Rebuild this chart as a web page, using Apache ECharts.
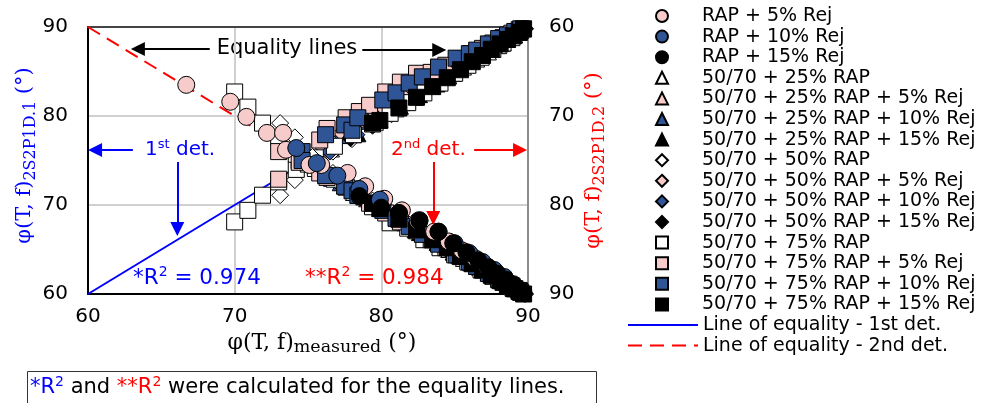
<!DOCTYPE html>
<html><head><meta charset="utf-8">
<script src="https://cdn.jsdelivr.net/npm/echarts@6/dist/echarts.min.js"></script>
<style>html,body{margin:0;padding:0;background:#fff}#c{width:985px;height:403px}</style>
</head><body><div id="c"></div>
<script>
// ---------- DATA ----------
const xTicks = [60, 70, 80, 90];
const eqX = [60, 90];
const eqY = [60, 90];

// RAP + x% Rej (2nd determination only)
const rap5_x  = [66.7, 69.7, 70.8, 72.2, 73.3, 73.5, 75.1, 75.9, 77.7, 78.9, 80.2, 81.4, 82.5, 83.6, 84.6, 85.5, 86.4, 87.2, 87.9, 88.5, 89.0, 89.5];
const rap5_d2 = [66.5, 68.4, 70.1, 71.9, 71.9, 73.8, 75.5, 75.5, 76.4, 77.9, 79.3, 80.6, 81.8, 83.0, 84.1, 85.1, 86.0, 86.9, 87.7, 88.4, 89.0, 89.6];
const rap10_x  = [74.2, 75.6, 77.0, 78.5, 79.9, 81.2, 82.6, 83.9, 85.0, 86.0, 86.9, 87.7, 88.4, 89.0, 89.5];
const rap10_d2 = [73.6, 75.3, 76.7, 78.2, 79.4, 80.9, 81.7, 83.0, 84.3, 85.4, 86.4, 87.3, 88.1, 88.9, 89.6];
const rap15_x  = [78.5, 80.0, 81.2, 82.6, 83.9, 84.9, 85.8, 86.6, 87.3, 87.9, 88.5, 89.0, 89.4, 89.7];
const rap15_d2 = [79.0, 80.3, 80.9, 81.8, 83.0, 84.3, 85.3, 86.2, 87.0, 87.7, 88.4, 89.0, 89.5, 89.9];

// 50/70 + 25% RAP (+ Rej)
const r25_x  = [75.0, 76.6, 78.1, 79.6, 81.0, 82.3, 83.5, 84.6, 85.6, 86.5, 87.3, 88.0, 88.6, 89.1, 89.5];
const r25_d1 = [74.6, 76.3, 77.9, 79.3, 80.8, 82.1, 83.4, 84.5, 85.5, 86.4, 87.2, 87.9, 88.6, 89.1, 89.6];
const r25_d2 = [75.4, 77.0, 78.6, 80.1, 81.5, 82.8, 83.9, 85.0, 86.0, 86.9, 87.6, 88.3, 88.9, 89.4, 89.8];
const r25j5_x  = [76.0, 77.5, 79.0, 80.4, 81.7, 82.9, 84.0, 85.0, 85.9, 86.7, 87.5, 88.2, 88.8, 89.3, 89.6];
const r25j5_d1 = [76.6, 78.2, 79.7, 81.1, 82.4, 83.6, 84.6, 85.6, 86.5, 87.3, 88.0, 88.6, 89.1, 89.5, 89.8];
const r25j5_d2 = [76.2, 77.8, 79.3, 80.8, 82.0, 83.2, 84.3, 85.3, 86.2, 87.0, 87.8, 88.4, 89.0, 89.4, 89.7];
const r25j10_x  = [77.2, 78.8, 80.2, 81.6, 82.9, 84.1, 85.1, 86.1, 86.9, 87.7, 88.3, 88.9, 89.3, 89.7];
const r25j10_d1 = [77.8, 79.4, 80.9, 82.2, 83.5, 84.6, 85.6, 86.5, 87.3, 88.0, 88.6, 89.1, 89.5, 89.8];
const r25j10_d2 = [77.5, 79.1, 80.6, 82.0, 83.3, 84.4, 85.4, 86.3, 87.1, 87.9, 88.5, 89.0, 89.4, 89.8];
const r25j15_x  = [78.4, 79.9, 81.3, 82.6, 83.8, 84.9, 85.9, 86.8, 87.6, 88.3, 88.9, 89.4, 89.7];
const r25j15_d1 = [78.0, 79.6, 81.1, 82.4, 83.6, 84.8, 85.8, 86.7, 87.5, 88.2, 88.9, 89.4, 89.8];
const r25j15_d2 = [78.9, 80.4, 81.8, 83.1, 84.2, 85.3, 86.2, 87.1, 87.9, 88.6, 89.1, 89.5, 89.9];

// 50/70 + 50% RAP (+ Rej)
const r50_x  = [73.1, 74.1, 75.3, 76.7, 78.0, 79.4, 80.7, 81.9, 83.1, 84.2, 85.2, 86.1, 86.9, 87.7, 88.4, 89.0, 89.5];
const r50_d1 = [71.1, 72.8, 74.4, 76.0, 77.4, 78.9, 80.2, 81.5, 82.8, 83.9, 85.0, 85.9, 86.8, 87.6, 88.3, 88.9, 89.5];
const r50_d2 = [70.8, 72.4, 74.6, 76.4, 77.9, 79.5, 80.9, 82.2, 83.4, 84.5, 85.5, 86.4, 87.2, 88.0, 88.6, 89.2, 89.7];
const r50j5_x  = [74.5, 75.9, 77.3, 78.7, 80.1, 81.4, 82.6, 83.7, 84.7, 85.7, 86.6, 87.4, 88.1, 88.7, 89.2, 89.6];
const r50j5_d1 = [75.1, 76.7, 78.1, 79.6, 81.0, 82.3, 83.5, 84.6, 85.6, 86.5, 87.3, 88.0, 88.6, 89.1, 89.5, 89.8];
const r50j5_d2 = [74.9, 76.4, 77.9, 79.3, 80.8, 82.0, 83.2, 84.3, 85.3, 86.2, 87.1, 87.8, 88.5, 89.0, 89.4, 89.8];
const r50j10_x  = [76.5, 78.3, 79.7, 81.1, 82.4, 83.6, 84.7, 85.7, 86.6, 87.4, 88.1, 88.7, 89.2, 89.6];
const r50j10_d1 = [76.0, 77.9, 79.4, 80.9, 82.3, 83.6, 84.7, 85.7, 86.6, 87.4, 88.1, 88.8, 89.3, 89.7];
const r50j10_d2 = [76.8, 78.6, 80.1, 81.5, 82.8, 84.0, 85.1, 86.1, 87.0, 87.8, 88.5, 89.1, 89.5, 89.9];
const r50j15_x  = [77.9, 79.4, 80.8, 82.1, 83.3, 84.4, 85.4, 86.3, 87.1, 87.8, 88.5, 89.0, 89.4, 89.8];
const r50j15_d1 = [77.5, 79.0, 80.5, 81.8, 83.1, 84.2, 85.3, 86.2, 87.1, 87.8, 88.5, 89.0, 89.5, 89.8];
const r50j15_d2 = [78.3, 79.8, 81.2, 82.6, 83.8, 84.9, 85.9, 86.8, 87.6, 88.3, 88.9, 89.4, 89.7, 90.0];

// 50/70 + 75% RAP (+ Rej)
const r75_x  = [70.0, 70.9, 71.9, 73.0, 74.2, 75.5, 76.8, 78.1, 79.4, 80.6, 81.8, 82.9, 84.0, 85.0, 85.9, 86.8, 87.6, 88.3, 88.9, 89.4];
const r75_d1 = [68.1, 69.4, 71.1, 72.6, 74.0, 75.3, 76.6, 77.9, 79.1, 80.3, 81.5, 82.6, 83.7, 84.8, 85.7, 86.6, 87.5, 88.2, 88.8, 89.4];
const r75_d2 = [67.3, 69.0, 70.8, 72.4, 74.3, 75.9, 77.1, 78.2, 80.2, 82.0, 82.6, 83.9, 84.8, 85.6, 86.4, 87.3, 88.0, 88.7, 89.2, 89.7];
const r75j5_x  = [73.0, 74.4, 75.8, 76.3, 77.6, 78.5, 79.2, 80.3, 81.3, 82.4, 83.4, 84.4, 85.3, 86.1, 86.9, 87.6, 88.3, 88.9, 89.4];
const r75j5_d1 = [72.9, 75.0, 77.3, 78.6, 79.8, 80.5, 81.2, 82.7, 83.8, 84.8, 84.9, 85.7, 86.4, 87.0, 87.6, 88.2, 88.8, 89.3, 89.7];
const r75j5_d2 = [74.0, 75.2, 76.4, 76.9, 78.0, 78.9, 79.8, 80.9, 81.9, 82.9, 83.9, 84.8, 85.7, 86.5, 87.3, 88.0, 88.6, 89.1, 89.6];
const r75j10_x  = [74.6, 76.2, 77.5, 78.0, 78.4, 80.1, 81.0, 81.9, 82.8, 83.9, 85.1, 86.0, 86.5, 87.3, 88.0, 88.6, 89.1, 89.5];
const r75j10_d1 = [76.0, 77.9, 79.0, 78.4, 79.8, 81.8, 82.6, 83.7, 84.4, 85.5, 86.5, 87.0, 87.4, 88.1, 88.7, 89.1, 89.5, 89.8];
const r75j10_d2 = [75.0, 76.7, 77.9, 78.4, 78.9, 80.6, 81.5, 82.4, 83.3, 84.4, 85.6, 86.4, 86.9, 87.7, 88.4, 89.0, 89.4, 89.8];
const r75j15_x  = [79.4, 79.9, 81.2, 82.4, 83.5, 84.5, 85.4, 86.2, 86.9, 87.5, 88.1, 88.6, 89.0, 89.4, 89.7];
const r75j15_d1 = [79.2, 79.5, 80.9, 82.1, 83.3, 84.3, 85.2, 86.1, 86.8, 87.5, 88.1, 88.6, 89.0, 89.4, 89.8];
const r75j15_d2 = [79.8, 80.4, 81.6, 82.8, 83.9, 84.8, 85.8, 86.6, 87.3, 87.9, 88.5, 89.0, 89.4, 89.7, 90.0];

// ---------- STYLE ----------
const PINK = '#F8CBCB', BLUE = '#2F5597', BLACK = '#000000', WHITE = '#FFFFFF';
const FONT = 'DejaVu Sans';
const SERIF = 'DejaVu Serif';

const groups = [
  {name: 'RAP + 5% Rej', x: rap5_x, d1: null, d2: rap5_d2, symbol: 'circle', color: PINK, size: 17},
  {name: 'RAP + 10% Rej', x: rap10_x, d1: null, d2: rap10_d2, symbol: 'circle', color: BLUE, size: 17},
  {name: 'RAP + 15% Rej', x: rap15_x, d1: null, d2: rap15_d2, symbol: 'circle', color: BLACK, size: 17},
  {name: '50/70 + 25% RAP', x: r25_x, d1: r25_d1, d2: r25_d2, symbol: 'triangle', color: WHITE, size: 16},
  {name: '50/70 + 25% RAP + 5% Rej', x: r25j5_x, d1: r25j5_d1, d2: r25j5_d2, symbol: 'triangle', color: PINK, size: 16},
  {name: '50/70 + 25% RAP + 10% Rej', x: r25j10_x, d1: r25j10_d1, d2: r25j10_d2, symbol: 'triangle', color: BLUE, size: 16},
  {name: '50/70 + 25% RAP + 15% Rej', x: r25j15_x, d1: r25j15_d1, d2: r25j15_d2, symbol: 'triangle', color: BLACK, size: 16},
  {name: '50/70 + 50% RAP', x: r50_x, d1: r50_d1, d2: r50_d2, symbol: 'diamond', color: WHITE, size: 17},
  {name: '50/70 + 50% RAP + 5% Rej', x: r50j5_x, d1: r50j5_d1, d2: r50j5_d2, symbol: 'diamond', color: PINK, size: 17},
  {name: '50/70 + 50% RAP + 10% Rej', x: r50j10_x, d1: r50j10_d1, d2: r50j10_d2, symbol: 'diamond', color: BLUE, size: 17},
  {name: '50/70 + 50% RAP + 15% Rej', x: r50j15_x, d1: r50j15_d1, d2: r50j15_d2, symbol: 'diamond', color: BLACK, size: 17},
  {name: '50/70 + 75% RAP', x: r75_x, d1: r75_d1, d2: r75_d2, symbol: 'rect', color: WHITE, size: 16},
  {name: '50/70 + 75% RAP + 5% Rej', x: r75j5_x, d1: r75j5_d1, d2: r75j5_d2, symbol: 'rect', color: PINK, size: 16},
  {name: '50/70 + 75% RAP + 10% Rej', x: r75j10_x, d1: r75j10_d1, d2: r75j10_d2, symbol: 'rect', color: BLUE, size: 16},
  {name: '50/70 + 75% RAP + 15% Rej', x: r75j15_x, d1: r75j15_d1, d2: r75j15_d2, symbol: 'rect', color: BLACK, size: 16}
];
const LINE1 = 'Line of equality - 1st det.';
const LINE2 = 'Line of equality - 2nd det.';

// annotation arrows in data coordinates (left axis)
const arrows = [
  {from: [68.3, 87.53], to: [63.4, 87.53], color: '#000000'},
  {from: [78.7, 87.42], to: [83.95, 87.42], color: '#000000'},
  {from: [63.06, 76.18], to: [60.48, 76.18], color: '#0000FF'},
  {from: [66.09, 74.83], to: [66.09, 67.30], color: '#0000FF'},
  {from: [86.33, 76.18], to: [89.46, 76.18], color: '#FF0000'},
  {from: [83.54, 74.83], to: [83.54, 68.54], color: '#FF0000'}
];

const zip = (a, b) => a.map((v, i) => [v, b[i]]);

const series = [];
series.push({
  name: LINE1, type: 'line', z: 1, xAxisIndex: 0, yAxisIndex: 0, data: zip(eqX, eqY),
  symbol: 'none', lineStyle: {color: '#0000FF', width: 2}, itemStyle: {color: '#0000FF'}
});
series.push({
  name: LINE2, type: 'line', z: 1, xAxisIndex: 0, yAxisIndex: 1, data: zip(eqX, eqY),
  symbol: 'none', lineStyle: {color: '#FF0000', width: 2, type: [14, 8]}, itemStyle: {color: '#FF0000'}
});
const mk = (g, ys, axis) => ({
  name: g.name, type: 'scatter', z: 2, xAxisIndex: 0, yAxisIndex: axis, data: zip(g.x, ys),
  symbol: g.symbol, symbolSize: g.size,
  itemStyle: {color: g.color, borderColor: '#000', borderWidth: 1, opacity: 1}
});
// 1st det (ascending) first, then 2nd det of 50/70 mixes, then RAP+Rej circles on top
groups.forEach(g => { if (g.d1) series.push(mk(g, g.d1, 0)); });
groups.forEach(g => { if (g.d1) series.push(mk(g, g.d2, 1)); });
groups.forEach(g => { if (!g.d1) series.push(mk(g, g.d2, 1)); });
// annotation arrows (no data, only markLines)
series.push({
  name: 'annotations', type: 'scatter', z: 5, xAxisIndex: 0, yAxisIndex: 0, data: [], clip: false,
  markLine: {
    silent: true, symbol: ['none', 'triangle'], symbolSize: 14, animation: false,
    label: {show: false},
    data: arrows.map(a => [
      {coord: a.from, lineStyle: {color: a.color, width: 2, type: 'solid'}, itemStyle: {color: a.color}},
      {coord: a.to, lineStyle: {color: a.color, width: 2, type: 'solid'}, itemStyle: {color: a.color}}
    ])
  }
});

const axisLbl = {fontFamily: FONT, fontSize: 20, color: '#000'};
const nameRich = (col, m, s) => ({
  m: {fontFamily: SERIF, fontSize: m, lineHeight: 28, color: col},
  s: {fontFamily: SERIF, fontSize: s, lineHeight: 17, verticalAlign: 'bottom', color: col}
});
const legendText = {fontFamily: FONT, fontSize: 19, color: '#000', lineHeight: 20};

const chart = echarts.init(document.getElementById('c'), null, {renderer: 'canvas'});
chart.setOption({
  animation: false,
  backgroundColor: '#fff',
  grid: {left: 88, right: 457, top: 27, bottom: 109, show: false},
  legend: [{
    data: groups.map(g => g.name),
    orient: 'vertical', left: 650, top: 1,
    itemWidth: 12, itemHeight: 12, itemGap: 0.6,
    selectedMode: false,
    formatter: n => '{p| }' + n,
    textStyle: Object.assign({rich: {p: {width: 29, fontSize: 19, lineHeight: 20}}}, legendText)
  }, {
    data: [
      {name: LINE1, itemStyle: {color: 'rgba(0,0,0,0)', borderColor: 'rgba(0,0,0,0)', borderWidth: 0, opacity: 0}},
      {name: LINE2, itemStyle: {color: 'rgba(0,0,0,0)', borderColor: 'rgba(0,0,0,0)', borderWidth: 0, opacity: 0}}
    ],
    orient: 'vertical', left: 622, top: 1 + 15 * 20.6,
    itemWidth: 70, itemHeight: 12, itemGap: 0.6,
    selectedMode: false,
    textStyle: legendText
  }],
  xAxis: [{
    type: 'value', min: xTicks[0], max: xTicks[xTicks.length - 1], interval: 10,
    axisLine: {show: true, onZero: false, lineStyle: {color: '#000', width: 2}},
    axisTick: {show: false},
    axisLabel: Object.assign({margin: 13}, axisLbl),
    splitLine: {show: true, lineStyle: {color: '#D0D0D0', width: 2}},
    name: '{m|φ(T, f)}{s|measured}{m| (°)}', nameLocation: 'middle', nameGap: 33,
    nameTextStyle: {rich: nameRich('#000', 22, 17.5), padding: [0, 0, 0, 28]}
  }, {
    type: 'value', position: 'top', min: 60, max: 90, interval: 10,
    axisLine: {show: true, onZero: false, lineStyle: {color: '#444', width: 2}},
    axisTick: {show: false}, axisLabel: {show: false}, splitLine: {show: false}
  }],
  yAxis: [{
    type: 'value', min: 60, max: 90, interval: 10, position: 'left',
    axisLine: {show: true, onZero: false, lineStyle: {color: '#000', width: 2}},
    axisTick: {show: false},
    axisLabel: Object.assign({margin: 20}, axisLbl),
    splitLine: {show: true, lineStyle: {color: '#D0D0D0', width: 2}},
    name: '{m|φ(T, f)}{s|2S2P1D.1}{m| (°)}', nameLocation: 'middle', nameRotate: 90, nameGap: 46,
    nameTextStyle: {rich: nameRich('#0000FF', 21, 16), padding: [0, 0, 0, 10]}
  }, {
    type: 'value', min: 60, max: 90, interval: 10, position: 'right', inverse: true,
    axisLine: {show: true, onZero: false, lineStyle: {color: '#8C8C8C', width: 2}},
    axisTick: {show: false},
    axisLabel: Object.assign({margin: 21}, axisLbl),
    splitLine: {show: false},
    name: '{m|φ(T, f)}{s|2S2P1D.2}{m| (°)}', nameLocation: 'middle', nameRotate: 90, nameGap: 52,
    nameTextStyle: {rich: nameRich('#FF0000', 21, 16)}
  }],
  series: series,
  graphic: [
    {type: 'text', x: 287, y: 49, silent: true, style: {text: 'Equality lines', font: '21px "DejaVu Sans"', fill: '#000', align: 'center', verticalAlign: 'middle'}},
    {type: 'text', x: 145, y: 150, silent: true, style: {
      text: '{n|1}{s|st}{n| det.}', align: 'left', verticalAlign: 'middle',
      rich: {n: {fontFamily: FONT, fontSize: 20, lineHeight: 24, fill: '#0000FF'}, s: {fontFamily: FONT, fontSize: 13, lineHeight: 15, verticalAlign: 'top', fill: '#0000FF'}}}},
    {type: 'text', x: 391, y: 150, silent: true, style: {
      text: '{n|2}{s|nd}{n| det.}', align: 'left', verticalAlign: 'middle',
      rich: {n: {fontFamily: FONT, fontSize: 20, lineHeight: 24, fill: '#FF0000'}, s: {fontFamily: FONT, fontSize: 13, lineHeight: 15, verticalAlign: 'top', fill: '#FF0000'}}}},
    {type: 'text', x: 133, y: 278, silent: true, style: {
      text: '{n|*R}{s|2}{n| = 0.974}', align: 'left', verticalAlign: 'middle',
      rich: {n: {fontFamily: FONT, fontSize: 21.5, lineHeight: 26, fill: '#0000FF'}, s: {fontFamily: FONT, fontSize: 14, lineHeight: 16, verticalAlign: 'top', fill: '#0000FF'}}}},
    {type: 'text', x: 305, y: 278, silent: true, style: {
      text: '{n|**R}{s|2}{n| = 0.984}', align: 'left', verticalAlign: 'middle',
      rich: {n: {fontFamily: FONT, fontSize: 21.5, lineHeight: 26, fill: '#FF0000'}, s: {fontFamily: FONT, fontSize: 14, lineHeight: 16, verticalAlign: 'top', fill: '#FF0000'}}}},
    {type: 'rect', silent: true, shape: {x: 27.5, y: 371.5, width: 569, height: 50}, style: {fill: '#fff', stroke: '#333', lineWidth: 1}},
    {type: 'text', x: 30, y: 388, silent: true, style: {
      text: '{b|*R}{bs|2}{k| and }{r|**R}{rs|2}{k| were calculated for the equality lines.}', align: 'left', verticalAlign: 'middle',
      rich: {
        b: {fontFamily: FONT, fontSize: 21, lineHeight: 26, fill: '#0000FF'},
        bs: {fontFamily: FONT, fontSize: 14, lineHeight: 16, verticalAlign: 'top', fill: '#0000FF'},
        r: {fontFamily: FONT, fontSize: 21, lineHeight: 26, fill: '#FF0000'},
        rs: {fontFamily: FONT, fontSize: 14, lineHeight: 16, verticalAlign: 'top', fill: '#FF0000'},
        k: {fontFamily: FONT, fontSize: 21, lineHeight: 26, fill: '#000'}
      }}}
  ]
});
</script></body></html>
